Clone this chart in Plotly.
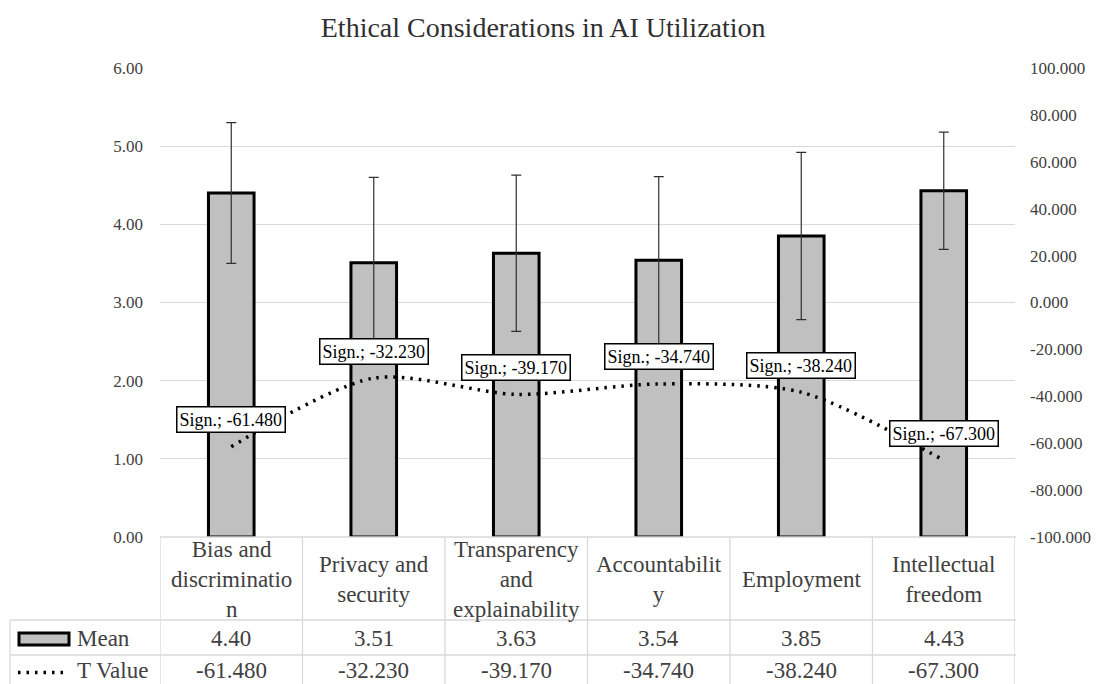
import plotly.graph_objects as go

categories = ["Bias and discrimination", "Privacy and security", "Transparency and explainability",
              "Accountability", "Employment", "Intellectual freedom"]
table_labels = ["Bias and<br>discriminatio<br>n", "Privacy and<br>security", "Transparency<br>and<br>explainability",
                "Accountabilit<br>y", "Employment", "Intellectual<br>freedom"]
mean_values = [4.40, 3.51, 3.63, 3.54, 3.85, 4.43]
sd_values = [0.90, 1.09, 1.00, 1.07, 1.07, 0.75]
t_values = [-61.480, -32.230, -39.170, -34.740, -38.240, -67.300]
left_ticks = [0, 1, 2, 3, 4, 5, 6]
right_ticks = [-100, -80, -60, -40, -20, 0, 20, 40, 60, 80, 100]
title_text = "Ethical Considerations in AI Utilization"

FONT = "Liberation Serif, Times New Roman, serif"
GRID = "#d9d9d9"
TXT = "#404040"

xi = list(range(len(categories)))

fig = go.Figure()
fig.add_trace(go.Bar(
    x=xi, y=mean_values, width=0.32, name="Mean",
    marker=dict(color="#c0c0c0", line=dict(color="black", width=3)),
    error_y=dict(type="data", array=sd_values, visible=True, color="#303030", thickness=1.2, width=5),
    showlegend=False,
))
fig.add_trace(go.Scatter(
    x=xi, y=t_values, yaxis="y2", mode="lines", name="T Value",
    line=dict(color="black", width=3.5, dash="2.5px,6px", shape="spline", smoothing=0.8),
    showlegend=False,
))

annotations = []
for i, v in enumerate(t_values):
    annotations.append(dict(
        x=i, y=v, xref="x", yref="y2", yshift=27, text=f"Sign.; {v:.3f}", showarrow=False,
        font=dict(family=FONT, size=18, color="black"), bgcolor="white",
        bordercolor="black", borderwidth=1.5, borderpad=2,
    ))


def py(Y):
    return (537 - Y) / 469.0


def px(X):
    return (X - 160) / 855.0


TFS = 23
for i in xi:
    annotations.append(dict(x=i, y=py(579), xref="x", yref="paper", text=table_labels[i], showarrow=False,
                            font=dict(family=FONT, size=TFS, color=TXT), align="center", yanchor="middle"))
    annotations.append(dict(x=i, y=py(638), xref="x", yref="paper", text=f"{mean_values[i]:.2f}", showarrow=False,
                            font=dict(family=FONT, size=TFS, color=TXT), yanchor="middle"))
    annotations.append(dict(x=i, y=py(671), xref="x", yref="paper", text=f"{t_values[i]:.3f}", showarrow=False,
                            font=dict(family=FONT, size=TFS, color=TXT), yanchor="middle"))

annotations.append(dict(x=px(75), y=py(638), xref="paper", yref="paper", text="Mean", showarrow=False,
                        xanchor="left", yanchor="middle", font=dict(family=FONT, size=TFS, color=TXT)))
annotations.append(dict(x=px(75), y=py(671), xref="paper", yref="paper", text="T Value", showarrow=False,
                        xanchor="left", yanchor="middle", font=dict(family=FONT, size=TFS, color=TXT)))

shapes = []
line_style = dict(color=GRID, width=1.3)
shapes.append(dict(type="line", xref="paper", yref="paper", x0=px(160), x1=px(1016), y0=py(537), y1=py(537), line=line_style))
for Y in (620, 655):
    shapes.append(dict(type="line", xref="paper", yref="paper", x0=px(10), x1=px(1016), y0=py(Y), y1=py(Y), line=line_style))
shapes.append(dict(type="line", xref="paper", yref="paper", x0=px(10), x1=px(10), y0=py(620), y1=py(690), line=line_style))
for b in range(len(categories) + 1):
    shapes.append(dict(type="line", xref="x", yref="paper", x0=b - 0.5, x1=b - 0.5, y0=py(537), y1=py(690), line=line_style))
shapes.append(dict(type="rect", xref="paper", yref="paper", x0=px(19), x1=px(69), y0=py(645), y1=py(633),
                   fillcolor="#c0c0c0", line=dict(color="black", width=3)))
shapes.append(dict(type="line", xref="paper", yref="paper", x0=px(18), x1=px(68), y0=py(672.5), y1=py(672.5),
                   line=dict(color="black", width=3.5, dash="2.5px,6px")))

fig.update_layout(
    width=1104, height=684,
    margin=dict(l=160, r=89, t=68, b=147, autoexpand=False),
    paper_bgcolor="white", plot_bgcolor="white",
    title=dict(text=title_text, x=0.492, xref="container", xanchor="center", y=1 - 27 / 684, yref="container",
               yanchor="middle", font=dict(family=FONT, size=28, color="#303030")),
    xaxis=dict(type="linear", range=[-0.5, 5.5], showticklabels=False, showgrid=False, zeroline=False,
               showline=False, ticks="", automargin=False),
    yaxis=dict(range=[0, 6], tickvals=left_ticks, ticktext=[f"{t:.2f}" for t in left_ticks],
               showgrid=True, gridcolor=GRID, gridwidth=1.3,
               zeroline=False, showline=False, ticks="", ticklabelstandoff=16, automargin=False,
               tickfont=dict(family=FONT, size=17, color=TXT)),
    yaxis2=dict(range=[-100, 100], tickvals=right_ticks, ticktext=[f"{t:.3f}" for t in right_ticks],
                overlaying="y", side="right", showgrid=False,
                zeroline=False, showline=False, ticks="", ticklabelstandoff=14, automargin=False,
                tickfont=dict(family=FONT, size=17, color=TXT)),
    annotations=annotations, shapes=shapes,
)

fig.write_html("out.html", config={"displayModeBar": False},
               post_script="document.body.style.margin='0';document.body.style.padding='0';document.body.style.overflow='hidden';")
